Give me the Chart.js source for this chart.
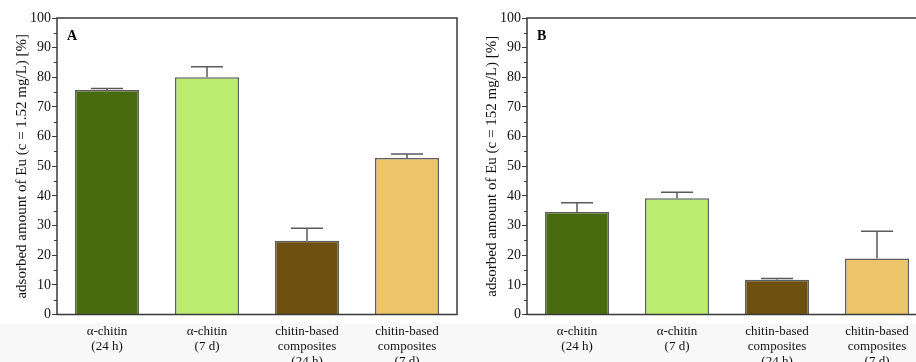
<!DOCTYPE html>
<html>
<head>
<meta charset="utf-8">
<script src="https://cdn.jsdelivr.net/npm/chart.js@4"></script>
<style>
  html, body { margin: 0; padding: 0; }
  body {
    width: 916px; height: 362px; overflow: hidden; position: relative;
    background: linear-gradient(to bottom, #fff 0, #fff 323px, #f8f8f8 323px, #f8f8f8 100%);
  }
  .panel { position: absolute; top: 0; width: 470px; height: 362px; }
  #panelA { left: 0; }
  #panelB { left: 470px; }
</style>
</head>
<body>
<div class="panel" id="panelA"><canvas id="chartA"></canvas></div>
<div class="panel" id="panelB"><canvas id="chartB"></canvas></div>
<script>
// --- data ---
const categories = [
  ['α-chitin', '(24 h)'],
  ['α-chitin', '(7 d)'],
  ['chitin-based', 'composites', '(24 h)'],
  ['chitin-based', 'composites', '(7 d)']
];
const valuesA = [75.7, 80.0, 24.9, 52.8];
const errorsA = [0.5, 3.6, 4.2, 1.3];
const valuesB = [34.6, 39.2, 11.7, 18.9];
const errorsB = [3.1, 2.0, 0.4, 9.2];
const barColors = ['#496b10', '#bbec70', '#6d4f10', '#ecc56a'];
const yMin = 0, yMax = 100, yStep = 10;

const SERIF = '"Liberation Serif", "DejaVu Serif", serif';
const axisColor = '#3a3a3a';

// error bars (upper half only), frame, minor ticks and panel letter
const decorPlugin = {
  id: 'decor',
  afterDatasetsDraw(chart, args, opts) {
    const { ctx, chartArea: a, scales: { x, y } } = chart;
    const meta = chart.getDatasetMeta(0);
    ctx.save();
    ctx.strokeStyle = '#5a5a5a';
    ctx.lineWidth = 1.5;
    opts.errors.forEach((e, i) => {
      const bar = meta.data[i];
      const v = chart.data.datasets[0].data[i];
      const yTop = y.getPixelForValue(v);
      const yErr = y.getPixelForValue(v + e);
      const half = bar.width / 4;
      ctx.beginPath();
      ctx.moveTo(bar.x, yTop);
      ctx.lineTo(bar.x, yErr);
      ctx.moveTo(bar.x - half, yErr);
      ctx.lineTo(bar.x + half, yErr);
      ctx.stroke();
    });
    // frame
    ctx.strokeStyle = axisColor;
    ctx.lineWidth = 1.5;
    ctx.strokeRect(a.left, a.top, a.right - a.left, a.bottom - a.top);
    // minor ticks every 5
    ctx.lineWidth = 1;
    for (let v = yMin + yStep / 2; v < yMax; v += yStep) {
      const py = Math.round(y.getPixelForValue(v)) + 0.5;
      ctx.beginPath();
      ctx.moveTo(a.left - 3, py);
      ctx.lineTo(a.left, py);
      ctx.stroke();
    }
    // panel letter
    ctx.fillStyle = '#000';
    ctx.font = 'bold 14px ' + SERIF;
    ctx.textBaseline = 'middle';
    ctx.fillText(opts.letter, a.left + 10, a.top + 18);
    ctx.restore();
  }
};

function makeChart(id, values, errors, letter, yTitle) {
  new Chart(document.getElementById(id), {
    type: 'bar',
    data: {
      labels: categories,
      datasets: [{
        data: values,
        backgroundColor: barColors,
        borderColor: '#5e5e5e',
        borderWidth: 1.5,
        barPercentage: 0.64,
        categoryPercentage: 1
      }]
    },
    options: {
      responsive: true,
      maintainAspectRatio: false,
      animation: false,
      events: [],
      layout: { padding: { top: 18, right: 13, left: 0, bottom: 0 } },
      plugins: {
        legend: { display: false },
        tooltip: { enabled: false },
        decor: { errors: errors, letter: letter }
      },
      scales: {
        x: {
          afterFit: s => { s.height = 47.5; },
          grid: { display: false, drawTicks: true, tickLength: 5, tickColor: axisColor, tickWidth: 1.5, offset: false },
          border: { display: false },
          ticks: {
            color: '#111',
            padding: 5,
            maxRotation: 0,
            autoSkip: false,
            font: { family: SERIF, size: 13, lineHeight: 1.15 }
          }
        },
        y: {
          min: yMin,
          max: yMax,
          afterFit: s => { s.width = 57; },
          grid: {
            drawOnChartArea: false,
            drawTicks: true,
            tickLength: 5,
            tickWidth: 1,
            tickColor: axisColor
          },
          border: { display: false },
          ticks: {
            stepSize: yStep,
            padding: 1,
            color: '#111',
            font: { family: SERIF, size: 14 }
          },
          title: {
            display: true,
            text: yTitle,
            color: '#111',
            padding: { top: 13, bottom: 0 },
            font: { family: SERIF, size: 15, lineHeight: 1.2 }
          }
        }
      }
    },
    plugins: [decorPlugin]
  });
}

makeChart('chartA', valuesA, errorsA, 'A', 'adsorbed amount of Eu (c = 1.52 mg/L) [%]');
makeChart('chartB', valuesB, errorsB, 'B', 'adsorbed amount of Eu (c = 152 mg/L) [%]');
</script>
</body>
</html>
